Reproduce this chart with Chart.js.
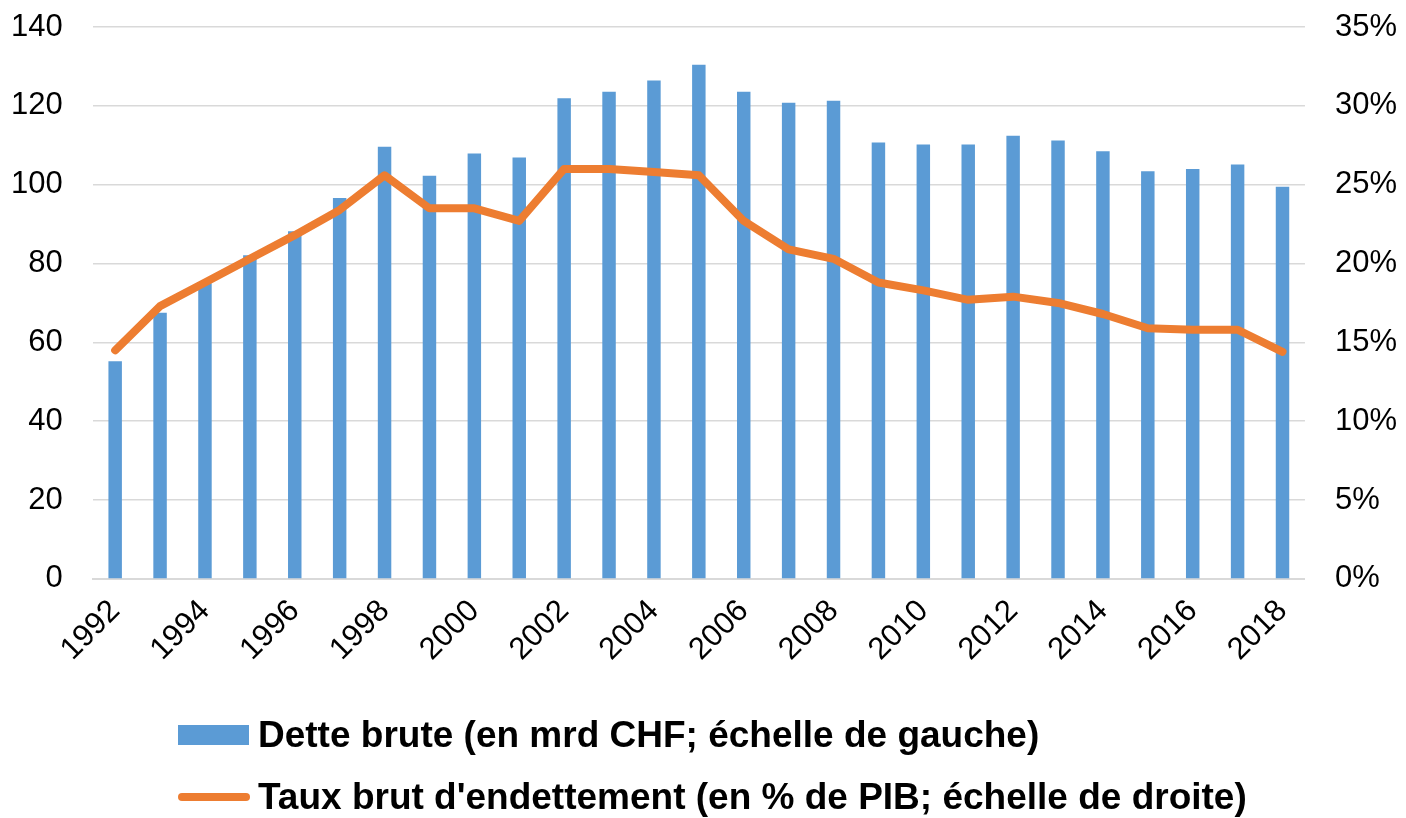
<!DOCTYPE html>
<html>
<head>
<meta charset="utf-8">
<script src="https://cdn.jsdelivr.net/npm/chart.js@4/dist/chart.umd.min.js"></script>
<style>
body{margin:0;background:#fff;}
#wrap{position:relative;width:1406px;height:818px;}
#legend{position:absolute;left:178px;top:0;font-family:"Liberation Sans",Arial,sans-serif;font-weight:bold;font-size:37px;color:#000;}
.row{position:absolute;left:0;display:flex;align-items:center;height:40px;white-space:nowrap;}
.box{width:71px;height:20px;background:#5B9BD5;margin-right:9px;flex:none;}
.ln{width:72px;height:8px;border-radius:4px;background:#ED7D31;margin-right:8px;flex:none;}
</style>
</head>
<body>
<div id="wrap">
<canvas id="debtChart" width="1406" height="818"></canvas>
<div id="legend">
  <div class="row" style="top:715px"><span class="box"></span>Dette brute (en mrd CHF; échelle de gauche)</div>
  <div class="row" style="top:777px"><span class="ln"></span>Taux brut d'endettement (en % de PIB; échelle de droite)</div>
</div>
</div>
<script>
const years = ['1992','1993','1994','1995','1996','1997','1998','1999','2000','2001','2002','2003','2004','2005','2006','2007','2008','2009','2010','2011','2012','2013','2014','2015','2016','2017','2018'];

// Dette brute, mrd CHF (left axis)
const detteBrute = [55.2,67.5,75.0,82.1,88.2,96.6,109.6,102.3,107.9,106.9,121.9,123.6,126.4,130.4,123.6,120.8,121.3,110.7,110.2,110.2,112.4,111.2,108.5,103.4,104.0,105.1,99.5];

// Taux brut d'endettement, % du PIB (right axis)
const tauxBrut = [14.5,17.3,18.8,20.3,21.8,23.4,25.6,23.5,23.5,22.7,26.0,26.0,25.8,25.6,22.7,20.9,20.3,18.8,18.3,17.7,17.9,17.5,16.8,15.9,15.8,15.8,14.4];

const leftTicks = [0,20,40,60,80,100,120,140];
const rightTicks = [0,5,10,15,20,25,30,35];

const tickFont = {family:'"Liberation Sans", Arial, sans-serif', size:31};
const gridCol = '#D9D9D9';
const tickPad = 30;

// y axes: keep label gap but drop the doubled padding chart.js reserves
function trimY(s){
    s.width = s.width - tickPad;
    s.paddingTop = 0;
    s.paddingBottom = 0;
}

const ctx = document.getElementById("debtChart");

const debtChart =
new Chart(ctx,{
    type:'bar',
    data:{
        labels:years,
        datasets:[{
            type:'line',
            label:"Taux brut d'endettement (en % de PIB; échelle de droite)",
            data:tauxBrut,
            yAxisID:'y1',
            borderColor:'#ED7D31',
            backgroundColor:'#ED7D31',
            borderWidth:8,
            pointRadius:0,
            tension:0,
            borderCapStyle:'round',
            borderJoinStyle:'round',
            order:0
        },{
            label:'Dette brute (en mrd CHF; échelle de gauche)',
            data:detteBrute,
            yAxisID:'y',
            backgroundColor:'#5B9BD5',
            barPercentage:0.3,
            categoryPercentage:1,
            order:1
        }]
    },
    options:{
        responsive:false,
        animation:false,
        layout:{padding:{left:11,right:9,top:27,bottom:144}},
        plugins:{
            legend:{display:false},
            tooltip:{enabled:false}
        },
        scales:{
            x:{
                offset:true,
                grid:{display:false},
                border:{display:true,color:gridCol,width:2},
                ticks:{
                    color:'#000',
                    font:tickFont,
                    autoSkip:false,
                    minRotation:45,
                    maxRotation:45,
                    padding:6,
                    callback:function(v,i){ return i%2===0 ? years[i] : ''; }
                },
                afterFit:function(s){ s.paddingLeft = 0; s.paddingRight = 0; }
            },
            y:{
                position:'left',
                min:leftTicks[0],
                max:leftTicks[leftTicks.length-1],
                afterBuildTicks:function(s){ s.ticks = leftTicks.map(v=>({value:v})); },
                afterFit:trimY,
                grid:{color:gridCol,lineWidth:1.5,drawTicks:false},
                border:{display:false},
                ticks:{color:'#000',font:tickFont,padding:tickPad}
            },
            y1:{
                position:'right',
                min:rightTicks[0],
                max:rightTicks[rightTicks.length-1],
                afterBuildTicks:function(s){ s.ticks = rightTicks.map(v=>({value:v})); },
                afterFit:trimY,
                grid:{drawOnChartArea:false,drawTicks:false},
                border:{display:false},
                ticks:{color:'#000',font:tickFont,padding:tickPad,callback:v=>v+'%'}
            }
        }
    }
});
</script>
</body>
</html>
